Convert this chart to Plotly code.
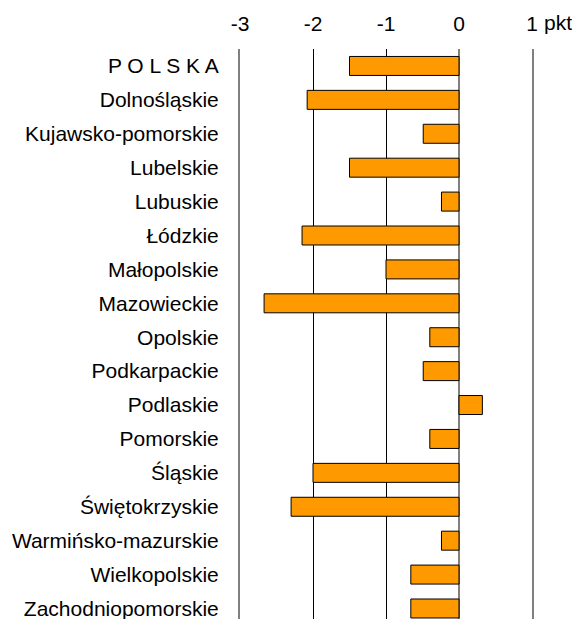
import plotly.graph_objects as go

categories = ["P O L S K A", "Dolnośląskie", "Kujawsko-pomorskie", "Lubelskie", "Lubuskie",
              "Łódzkie", "Małopolskie", "Mazowieckie", "Opolskie", "Podkarpackie",
              "Podlaskie", "Pomorskie", "Śląskie", "Świętokrzyskie", "Warmińsko-mazurskie",
              "Wielkopolskie", "Zachodniopomorskie"]
values = [-1.5, -2.08, -0.49, -1.5, -0.24, -2.15, -1.0, -2.67, -0.4, -0.49, 0.32, -0.4,
          -2.0, -2.3, -0.24, -0.66, -0.66]
tick_vals = [-3, -2, -1, 0, 1]
tick_text = ["-3", "-2", "-1", "0", "1"]
unit_label = "pkt"

font = dict(family="Liberation Sans, Arial, sans-serif", size=21, color="black")

fig = go.Figure(go.Bar(
    x=values, y=list(range(len(categories))), orientation="h",
    marker=dict(color="#FF9900", line=dict(color="black", width=1)),
    hoverinfo="skip",
))

fig.update_layout(
    width=572, height=619,
    margin=dict(l=240, r=40, t=49, b=0),
    paper_bgcolor="white", plot_bgcolor="white",
    bargap=0.44, showlegend=False, font=font,
)
fig.update_xaxes(
    range=[-3, 1], side="top", tickvals=tick_vals, ticktext=tick_text,
    showgrid=True, gridcolor="black", gridwidth=1,
    zeroline=True, zerolinecolor="#808080", zerolinewidth=2,
    showline=False, ticks="", ticklabelstandoff=13, tickfont=font, fixedrange=True,
)
fig.update_yaxes(
    range=[16.31, -0.5], tickvals=list(range(len(categories))), ticktext=categories,
    showgrid=False, zeroline=False, showline=True, linecolor="#808080", linewidth=2,
    mirror=True, ticks="", ticklabelstandoff=15, ticklabeloverflow="allow",
    tickfont=font, fixedrange=True,
)
fig.add_annotation(
    text=unit_label, x=1, xref="x", y=1, yref="paper", xanchor="left", yanchor="middle",
    xshift=10, yshift=27, showarrow=False, font=font,
)

fig.write_html(
    "out.html",
    config={"displayModeBar": False},
    post_script="document.body.style.margin='0';document.body.style.overflow='hidden';",
)
